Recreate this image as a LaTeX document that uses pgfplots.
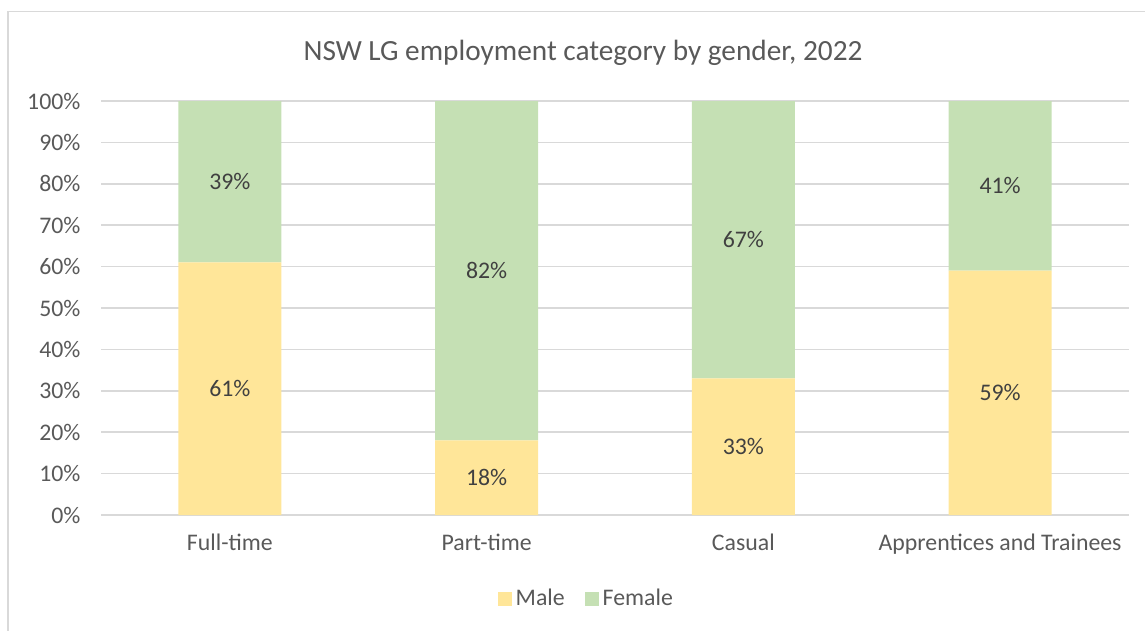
\documentclass[border=0pt]{standalone}
\usepackage{pgfplots}
\pgfplotsset{compat=1.18}
\usepackage{fontspec}
\setmainfont{Carlito}
\definecolor{male}{HTML}{FFE699}
\definecolor{female}{HTML}{C5E0B4}
\definecolor{gridc}{HTML}{D9D9D9}
\definecolor{txt}{HTML}{595959}
\definecolor{lbl}{HTML}{404040}
\pgfplotsset{
  common/.style={
    at={(50.75pt,-257.5pt)}, anchor=south west,
    scale only axis, width=513.5pt, height=207pt,
    xmin=-0.5, xmax=3.5, ymin=0, ymax=100,
  }
}
\begin{document}
\begin{tikzpicture}
\begin{scope}[x=0.5pt,y=-0.5pt]
\useasboundingbox (0,0) rectangle (1145,631);
\draw[gridc, line width=0.8pt] (8,640) -- (8,11.5) -- (1150,11.5);
\node[text=txt, font=\fontsize{14.65}{18}\selectfont, anchor=base] at (583,60.5) {NSW LG employment category by gender, 2022};
\end{scope}
\begin{axis}[
  common,
  ybar stacked, bar width=51.5pt,
  xtick=data, xticklabels={Full-time,Part-time,Casual,Apprentices and Trainees},
  ytick={0,10,...,100},
  yticklabel={\pgfmathprintnumber{\tick}\%},
  /pgf/number format/assume math mode=true,
  ymajorgrids, grid style={gridc, line width=0.8pt},
  axis lines*=left,
  y axis line style={draw=none},
  x axis line style={gridc, line width=0.8pt},
  major tick length=0pt,
  tick label style={text=txt, font=\fontsize{11.9}{14}\selectfont},
  yticklabel style={xshift=-7pt},
  xticklabel style={yshift=-6pt},
  legend columns=2,
  legend style={draw=none, at={(0.473,-0.203)}, anchor=center, font=\fontsize{11.9}{14}\selectfont, text=txt, /tikz/every even column/.append style={column sep=8pt}},
  legend image code/.code={\fill[#1] (0pt,-3.5pt) rectangle (7pt,3.5pt);},
]
\addplot[fill=male, draw=none] coordinates {(0,61) (1,18) (2,33) (3,59)};
\addplot[fill=female, draw=none] coordinates {(0,39) (1,82) (2,67) (3,41)};
\legend{Male,Female}
\end{axis}
% data labels at the middle of each segment
\begin{axis}[
  common, hide axis,
  nodes near coords, point meta=explicit symbolic,
  every node near coord/.append style={text=lbl, font=\fontsize{11.9}{14}\selectfont, anchor=center},
]
\addplot[draw=none, mark=none] coordinates {(0,30.5) [61\%] (1,9) [18\%] (2,16.5) [33\%] (3,29.5) [59\%]};
\addplot[draw=none, mark=none] coordinates {(0,80.5) [39\%] (1,59) [82\%] (2,66.5) [67\%] (3,79.5) [41\%]};
\end{axis}
\end{tikzpicture}
\end{document}
